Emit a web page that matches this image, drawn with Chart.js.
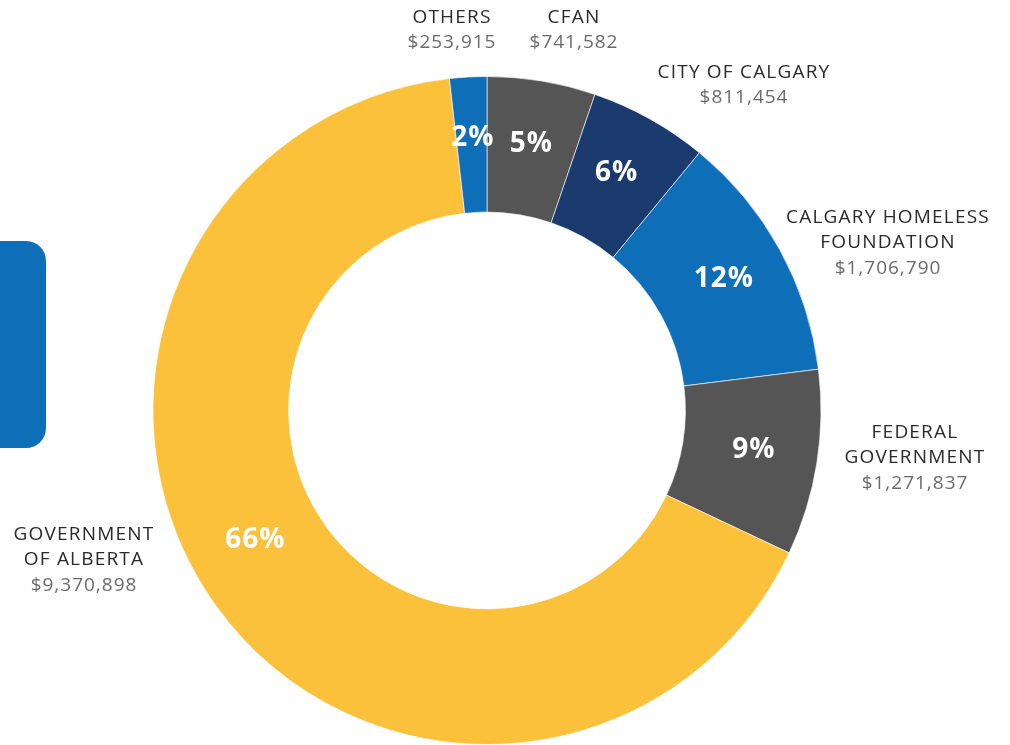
<!DOCTYPE html>
<html>
<head>
<meta charset="utf-8">
<script src="https://cdn.jsdelivr.net/npm/chart.js@4/dist/chart.umd.min.js"></script>
<style>
  html, body { margin: 0; padding: 0; background: #fff; }
  #wrap { position: relative; width: 1010px; height: 745px; overflow: hidden; }
  #tab { position: absolute; left: -20px; top: 241px; width: 66px; height: 207px; background: #0e6eb8; border-radius: 20px; }
  canvas { position: absolute; left: 0; top: 0; }
</style>
</head>
<body>
<div id="wrap">
  <div id="tab"></div>
  <canvas id="donut" width="1010" height="745"></canvas>
</div>
<script>
// funding sources, clockwise from the top
const fuentes = [
  ['CFAN'],
  ['CITY OF CALGARY'],
  ['CALGARY HOMELESS', 'FOUNDATION'],
  ['FEDERAL', 'GOVERNMENT'],
  ['GOVERNMENT', 'OF ALBERTA'],
  ['OTHERS']
];
const montos = [741582, 811454, 1706790, 1271837, 9370898, 253915];
const colores = ['#555555', '#1b3a6d', '#0e6eb8', '#555555', '#fbc13b', '#0e6eb8'];

// first line of each outside label, relative to the chart centre
const offsetsEtiqueta = [
  [87, -393], [257, -338], [401, -193], [428, 22], [-403, 124], [-35, -393]
];
// small nudges for the percentages inside the ring
const ajustePct = [[0, 0], [-2, -2], [0, -1], [0, -3], [-12, -28], [1, -3]];

const fuente = '"Open Sans", "Noto Sans", sans-serif';
const total = montos.reduce((a, b) => a + b, 0);
const fmt = v => '$' + v.toLocaleString('en-US');

const etiquetas = {
  id: 'etiquetas',
  afterDatasetsDraw(chart) {
    const ctx = chart.ctx;
    const arcs = chart.getDatasetMeta(0).data;
    ctx.save();
    ctx.textAlign = 'center';
    ctx.textBaseline = 'middle';
    arcs.forEach((arc, i) => {
      // percentage inside the ring
      const mid = (arc.startAngle + arc.endAngle) / 2;
      const r = (arc.innerRadius + arc.outerRadius) / 2 + 4;
      ctx.fillStyle = '#ffffff';
      ctx.font = 'bold 28px ' + fuente;
      ctx.letterSpacing = '1px';
      ctx.fillText(Math.round(montos[i] / total * 100) + '%',
        arc.x + Math.cos(mid) * r + ajustePct[i][0], arc.y + Math.sin(mid) * r + ajustePct[i][1]);

      // name and amount outside
      const [dx, dy] = offsetsEtiqueta[i];
      let y = arc.y + dy;
      ctx.font = '19px ' + fuente;
      ctx.letterSpacing = '1.2px';
      ctx.fillStyle = '#2a2a2a';
      fuentes[i].forEach(l => { ctx.fillText(l, arc.x + dx, y); y += 25.5; });
      ctx.fillStyle = '#6b6b6b';
      ctx.letterSpacing = '1px';
      ctx.fillText(fmt(montos[i]), arc.x + dx, y);
    });
    ctx.restore();
  }
};

new Chart(document.getElementById('donut').getContext('2d'), {
  type: 'doughnut',
  data: {
    labels: fuentes.map(f => f.join(' ')),
    datasets: [{
      data: montos,
      backgroundColor: colores,
      borderColor: 'rgba(255,255,255,0.6)',
      borderWidth: 1
    }]
  },
  options: {
    responsive: false,
    animation: false,
    cutout: '59.4%',
    layout: { padding: { left: 152, right: 188, top: 76, bottom: 0 } },
    plugins: {
      legend: { display: false },
      tooltip: { enabled: false }
    }
  },
  plugins: [etiquetas]
});
</script>
</body>
</html>
